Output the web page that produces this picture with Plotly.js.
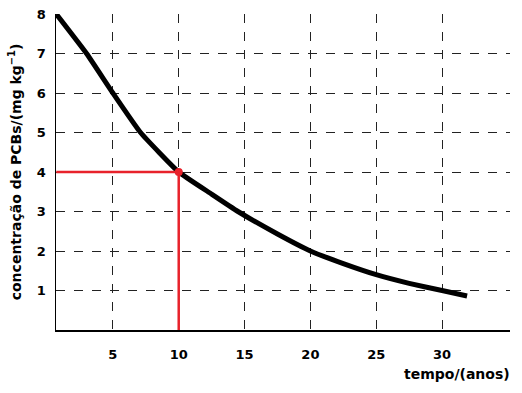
<!DOCTYPE html>
<html>
<head>
<meta charset="utf-8">
<script src="https://cdn.plot.ly/plotly-3.0.1.min.js"></script>
<style>html,body{margin:0;padding:0;background:#fff;}#chart{width:522px;height:393px;}</style>
</head>
<body>
<div id="chart"></div>
<script>
// Curve
const tempo = [0.7, 3.0, 5.0, 7.1, 10, 12.5, 14.5, 17.5, 20, 22.5, 25, 27.5, 30, 31.9];
const concentracao = [8.0, 7.0, 6.0, 5.0, 4.0, 3.44, 3.0, 2.43, 2.0, 1.68, 1.4, 1.18, 1.0, 0.86];
// Red guide (reading at t = 10 years)
const guideT = 10;
const guideC = 4;
const xStart = 0.7;
const xTicks = [5, 10, 15, 20, 25, 30];
const yTicks = [1, 2, 3, 4, 5, 6, 7, 8];

const FONT = "DejaVu Sans, Verdana, sans-serif";
const red = "#e8222b";

const traces = [
  {
    x: tempo, y: concentracao, mode: "lines", type: "scatter",
    line: {color: "#000", width: 5, shape: "spline", smoothing: 0.4},
    hoverinfo: "skip", showlegend: false
  },
  {
    x: [xStart, guideT, guideT], y: [guideC, guideC, 0], mode: "lines", type: "scatter",
    line: {color: red, width: 2.5}, hoverinfo: "skip", showlegend: false
  },
  {
    x: [guideT], y: [guideC], mode: "markers", type: "scatter",
    marker: {color: red, size: 8}, hoverinfo: "skip", showlegend: false
  }
];

const layout = {
  width: 522, height: 393,
  margin: {l: 56, r: 12, t: 14, b: 63},
  paper_bgcolor: "#fff", plot_bgcolor: "#fff",
  font: {family: FONT, color: "#000", size: 13},
  xaxis: {
    range: [0.68, 35.16],
    tickvals: xTicks, ticktext: xTicks.map(String),
    showgrid: true, gridcolor: "#222", griddash: "dash", gridwidth: 1,
    zeroline: false, showline: true, linecolor: "#000", linewidth: 1.5,
    ticks: "", ticklabelstandoff: 12,
    tickfont: {family: FONT, size: 13, weight: "bold"}
  },
  yaxis: {
    range: [0, 8],
    tickvals: yTicks, ticktext: yTicks.map(String),
    showgrid: true, gridcolor: "#222", griddash: "dash", gridwidth: 1,
    zeroline: false, showline: true, linecolor: "#000", linewidth: 1.5,
    ticks: "", ticklabelstandoff: 6,
    tickfont: {family: FONT, size: 13, weight: "bold"},
    title: {text: "concentração de PCBs/(mg kg<sup>−1</sup>)", standoff: 12,
            font: {family: FONT, size: 14, weight: "bold"}}
  },
  annotations: [
    {text: "tempo/(anos)", xref: "paper", yref: "paper", x: 1.0, y: 0,
     xanchor: "right", yanchor: "top", yshift: -34, xshift: 2, showarrow: false,
     font: {family: FONT, size: 14, weight: "bold"}}
  ]
};

Plotly.newPlot("chart", traces, layout, {displayModeBar: false, staticPlot: true});
</script>
</body>
</html>
